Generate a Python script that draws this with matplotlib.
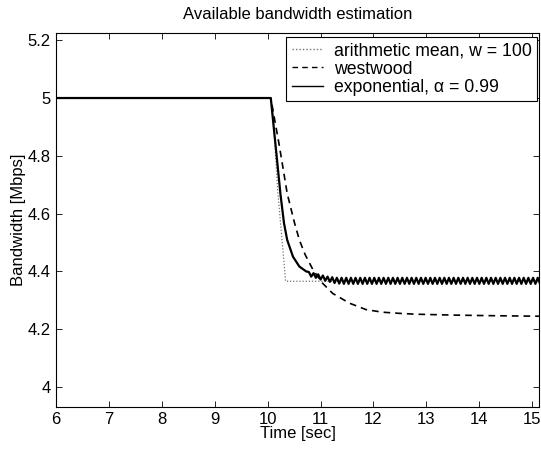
import matplotlib.pyplot as plt
import numpy as np

plt.rcParams['font.family'] = ['Liberation Sans', 'DejaVu Sans']

# arithmetic mean, w = 100
mean_t = [6.0, 10.06, 10.10, 10.19, 10.29, 10.34, 15.15]
mean_bw = [5.0, 5.0, 4.958, 4.68, 4.474, 4.366, 4.366]

# westwood
west_t = [6.0, 10.06, 10.22, 10.37, 10.51, 10.60, 10.71, 10.86, 11.04, 11.23,
          11.55, 11.86, 12.17, 12.49, 12.81, 13.5, 14.2, 15.15]
west_bw = [5.0, 5.0, 4.837, 4.670, 4.567, 4.509, 4.458, 4.405, 4.359, 4.324,
           4.29, 4.268, 4.259, 4.255, 4.252, 4.249, 4.247, 4.245]

# exponential, alpha = 0.99 (transient part)
exp_t = [6.0, 10.06, 10.15, 10.245, 10.31, 10.37, 10.48, 10.60, 10.73]
exp_bw = [5.0, 5.0, 4.837, 4.664, 4.567, 4.509, 4.451, 4.417, 4.40]

# exponential, steady state ripple (samples)
ripple_bw = [4.398, 4.382, 4.394, 4.378, 4.390, 4.372, 4.386, 4.368, 4.382, 4.364,
             4.380, 4.360, 4.378, 4.358, 4.378, 4.357, 4.378, 4.357, 4.378, 4.357,
             4.378, 4.357, 4.378, 4.357, 4.378, 4.357, 4.378, 4.357, 4.378, 4.357,
             4.378, 4.357, 4.378, 4.357, 4.378, 4.357, 4.378, 4.357, 4.378, 4.357,
             4.378, 4.357, 4.378, 4.357, 4.378, 4.357, 4.378, 4.357, 4.378, 4.357,
             4.378, 4.357, 4.378, 4.357, 4.378, 4.357, 4.378, 4.357, 4.378, 4.357,
             4.378, 4.357, 4.378, 4.357, 4.378, 4.357, 4.378, 4.357, 4.378, 4.357,
             4.378, 4.357, 4.378, 4.357, 4.378, 4.357, 4.378, 4.357, 4.378, 4.357,
             4.378, 4.357, 4.378, 4.357, 4.378, 4.357, 4.378, 4.357, 4.378, 4.357,
             4.378, 4.357, 4.378, 4.357, 4.378, 4.357, 4.378, 4.357, 4.378, 4.357]
ripple_t = np.linspace(10.78, 15.15, len(ripple_bw))

x_ticks = [6, 7, 8, 9, 10, 11, 12, 13, 14, 15]
y_ticks = [4.0, 4.2, 4.4, 4.6, 4.8, 5.0, 5.2]
y_labels = ['4', '4.2', '4.4', '4.6', '4.8', '5', '5.2']

fig = plt.figure(figsize=(5.41, 4.58), dpi=100)
ax = fig.add_axes([0.1035, 0.112, 0.8928, 0.8166])

ax.plot(mean_t, mean_bw, color='0.45', linestyle=(0, (1, 1.5)), linewidth=0.9,
        label='arithmetic mean, w = 100')
ax.plot(west_t, west_bw, color='black', linestyle=(0, (4, 3)), linewidth=1.2,
        label='westwood')
ax.plot(list(exp_t) + list(ripple_t), list(exp_bw) + ripple_bw, color='black',
        linewidth=1.6, label='exponential, α = 0.99')

ax.set_xlim(6, 15.13)
ax.set_ylim(3.932, 5.226)
ax.set_xticks(x_ticks)
ax.set_xticklabels([str(v) for v in x_ticks])
ax.set_yticks(y_ticks)
ax.set_yticklabels(y_labels)
ax.tick_params(direction='in', length=4, width=0.6, top=True, right=True,
               labelsize=12, pad=4)
for s in ax.spines.values():
    s.set_linewidth(0.8)

ax.set_xlabel('Time [sec]', fontsize=12, labelpad=-1)
ax.set_ylabel('Bandwidth [Mbps]', fontsize=12, labelpad=1)
ax.set_title('Available bandwidth estimation', fontsize=12, pad=10)

leg = ax.legend(loc='upper right', bbox_to_anchor=(0.996, 0.989), borderaxespad=0,
                fontsize=12.7, fancybox=False, framealpha=1, edgecolor='black',
                handlelength=1.8, handletextpad=0.6, labelspacing=0.08,
                borderpad=0.3)
leg.get_frame().set_linewidth(0.8)
for h in leg.get_lines():
    h.set_linewidth(1.0)

fig.savefig('out.png', dpi=100)
